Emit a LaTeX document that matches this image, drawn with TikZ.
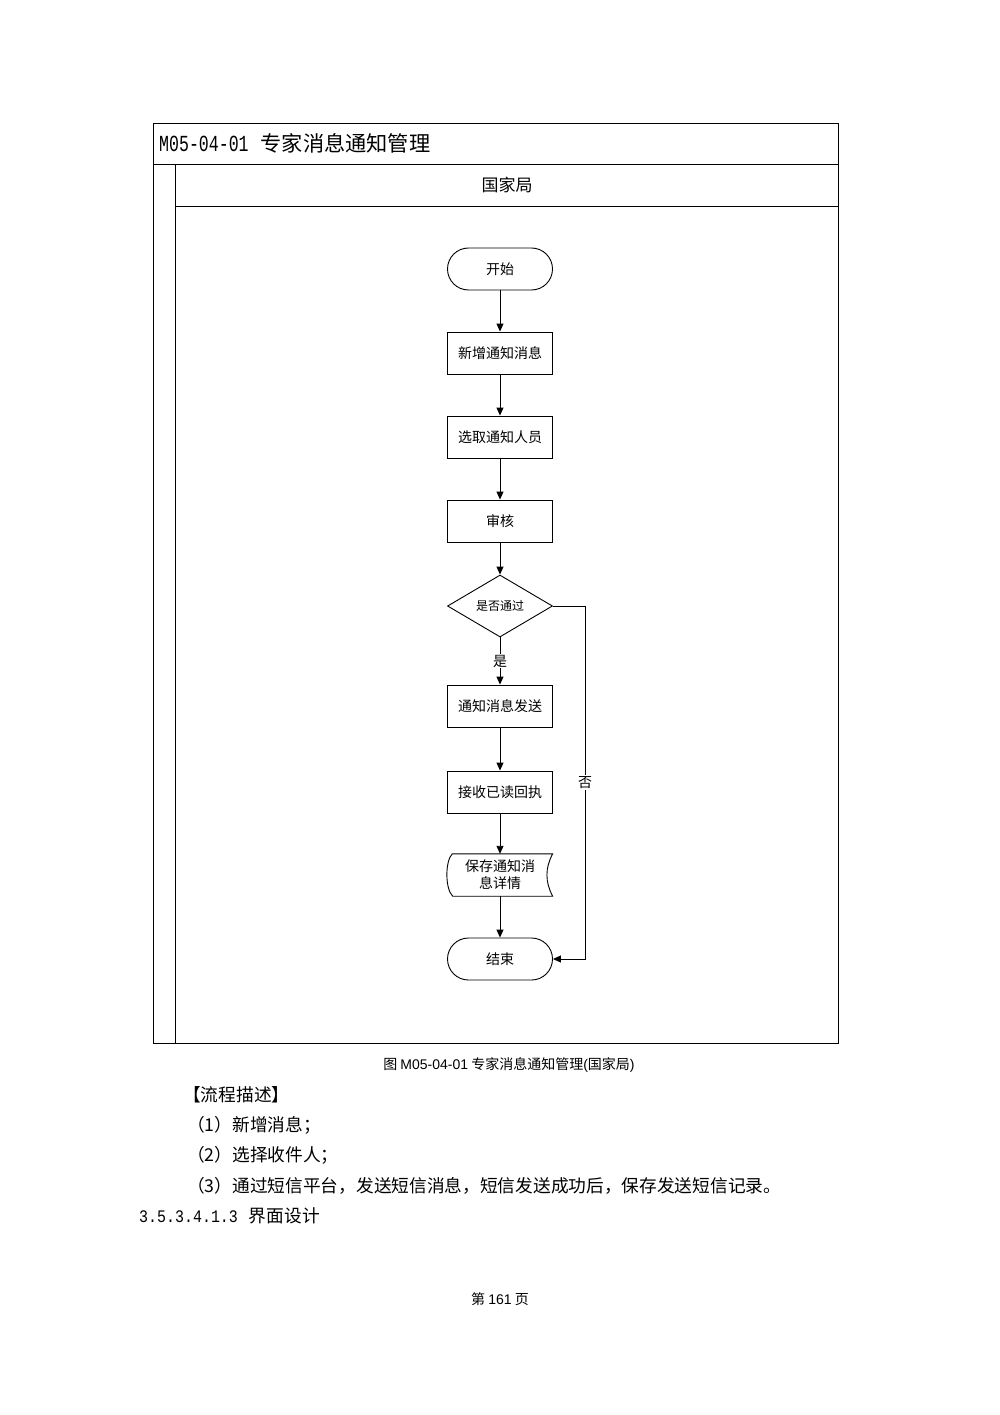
\documentclass[tikz,border=0pt]{standalone}
\usepackage{fontspec}
\setmainfont{Noto Sans CJK SC}
\newfontfamily\arial{Liberation Sans}
\newfontfamily\monof{Liberation Mono}
\usetikzlibrary{shapes.geometric,arrows.meta}
\begin{document}
\begin{tikzpicture}[x=1pt,y=-1pt,
  frame/.style={draw=black,line width=0.9pt},
  term/.style={draw=black,line width=0.9pt,rectangle,rounded corners=21pt,minimum width=105pt,minimum height=42pt,inner sep=0pt,font=\fontsize{14}{16}\selectfont},
  proc/.style={draw=black,line width=0.9pt,rectangle,minimum width=105pt,minimum height=42pt,inner sep=0pt,font=\fontsize{14}{16}\selectfont},
  dec/.style={draw=black,line width=0.9pt,diamond,minimum width=105pt,minimum height=62pt,inner sep=0pt,font=\fontsize{12}{14}\selectfont},
  plain/.style={inner sep=0pt,anchor=west},
  body/.style={plain,font=\fontsize{17.7}{20}\selectfont},
  arr/.style={draw=black,line width=0.9pt,-{Triangle[length=8pt,width=7pt]}},
  lab/.style={fill=white,inner sep=1pt,font=\fontsize{14}{16}\selectfont}
]
\useasboundingbox (0,0) rectangle (1000,1415);
\fill[white] (0,0) rectangle (1000,1415);
% frame
\draw[frame] (153,123) rectangle (838,1043);
\draw[frame] (153,164) -- (838,164);
\draw[frame] (175,164) -- (175,1043);
\draw[frame] (175,206) -- (838,206);
\node[plain,font=\fontsize{21.2}{22}\selectfont] (title) at (159,143) {\scalebox{0.72}[1]{\monof\fontsize{23}{23}\selectfont M05-04-01}\hspace{12pt}专家消息通知管理};
\node[inner sep=0pt,font=\fontsize{17}{20}\selectfont] (lane) at (507,185) {国家局};
% nodes
\node[term] (start) at (500,269) {开始};
\node[proc] (add) at (500,353) {新增通知消息};
\node[proc] (sel) at (500,437) {选取通知人员};
\node[proc] (rev) at (500,521) {审核};
\node[dec] (ok) at (500,606) {是否通过};
\node[proc] (send) at (500,706) {通知消息发送};
\node[proc] (recv) at (500,792) {接收已读回执};
\node[inner sep=0pt,minimum width=105pt,minimum height=42pt,align=center,font=\fontsize{14}{17}\selectfont] (save) at (500,875) {保存通知消\\息详情};
\draw[frame] (save.north west) ++(5,0) coordinate (sa)
  (sa) -- (save.north east) .. controls (545,868) and (545,882) .. (save.south east)
  -- ++(-100,0) .. controls (445,889) and (445,861) .. (sa) -- cycle;
\node[term] (end) at (500,959) {结束};
\coordinate (c1) at (585,606);
\coordinate (c2) at (585,959);
% connectors
\draw[arr] (start) -- (add);
\draw[arr] (add) -- (sel);
\draw[arr] (sel) -- (rev);
\draw[arr] (rev) -- (ok);
\draw[arr] (ok) -- node[lab,pos=0.5] {是} (send);
\draw[arr] (send) -- (recv);
\draw[arr] (recv) -- (save);
\draw[arr] (save) -- (end);
\draw[arr] (ok.east) -- (c1) -- node[lab,pos=0.5] {否} (c2) -- (end.east);
% captions
\node[inner sep=0pt,font=\fontsize{14}{16}\selectfont] (cap) at (509,1065) {图 {\arial M05-04-01} 专家消息通知管理{\arial (}国家局{\arial )}};
\node[body] (t0) at (183,1095) {【流程描述】};
\node[body] (t1) at (187,1125) {（1）新增消息；};
\node[body] (t2) at (187,1155) {（2）选择收件人；};
\node[body] (t3) at (187,1186) {（3）通过短信平台，发送短信消息，短信发送成功后，保存发送短信记录。};
\node[body] (t4) at (139,1216) {\scalebox{0.85}[1]{\monof\fontsize{17.6}{20}\selectfont 3.5.3.4.1.3}\hspace{11pt}界面设计};
\node[inner sep=0pt,font=\fontsize{14}{16}\selectfont] (pg) at (500,1299) {第 {\arial 161} 页};
\end{tikzpicture}
\end{document}
